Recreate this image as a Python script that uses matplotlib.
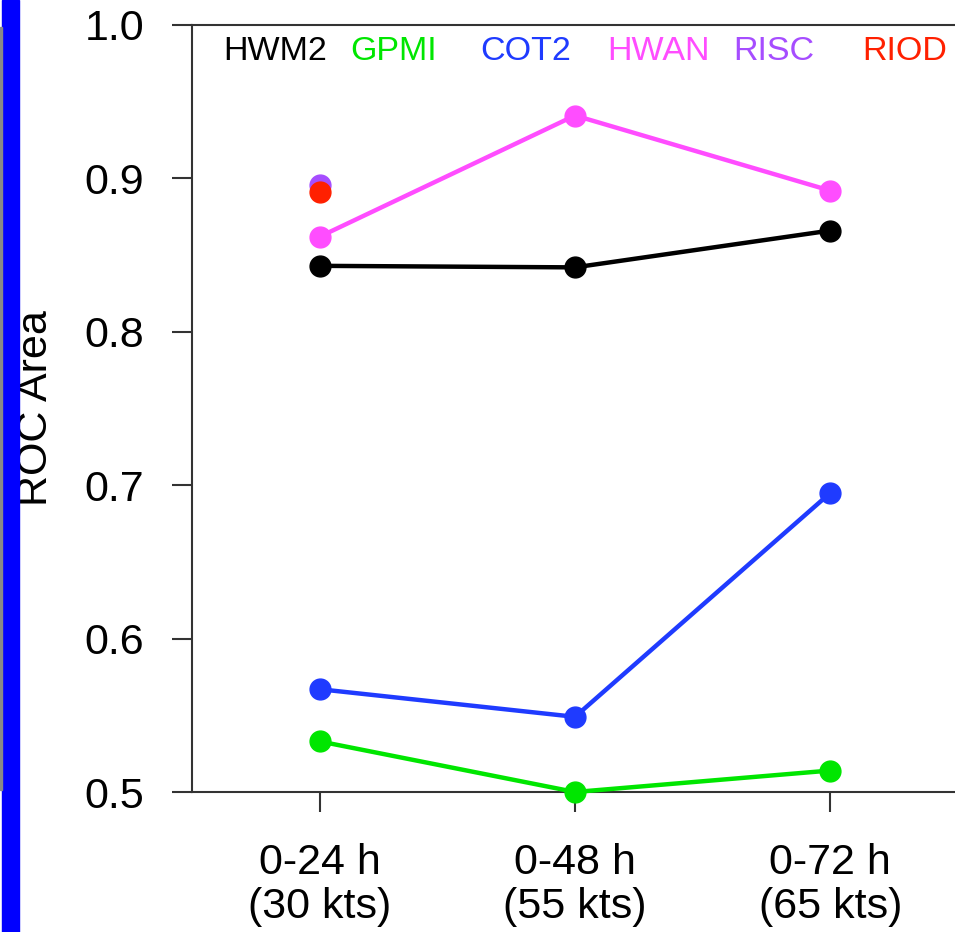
import matplotlib
matplotlib.use("Agg")
from matplotlib import pyplot as plt
from matplotlib.patches import Rectangle

# categories and series values
periods = ["0-24 h\n(30 kts)", "0-48 h\n(55 kts)", "0-72 h\n(65 kts)"]
hwm2 = [0.843, 0.842, 0.866]
gpmi = [0.533, 0.500, 0.514]
cot2 = [0.567, 0.549, 0.695]
hwan = [0.862, 0.941, 0.892]
risc = [0.896]
riod = [0.891]

names = ["HWM2", "GPMI", "COT2", "HWAN", "RISC", "RIOD"]
colors = ["black", "#00e600", "#1f3bff", "#ff4dff", "#a64dff", "#ff2000"]
label_x = [223, 350, 480, 607, 733, 862]  # legend text left edges in pixels

plt.rcParams["font.family"] = ["Liberation Sans", "DejaVu Sans"]

fig = plt.figure(figsize=(9.55, 9.32), dpi=100)
ax = fig.add_axes([192 / 955, 1 - 792 / 932, (958 - 192) / 955, (792 - 25) / 932])

x = [1, 2, 3]
series = [hwm2, gpmi, cot2, hwan]
for vals, c in zip(series, colors[:4]):
    ax.plot(x[:len(vals)], vals, color=c, lw=3.2, marker="o", ms=15, clip_on=False, zorder=3)
ax.plot(x[:1], risc, color=colors[4], marker="o", ms=15, ls="none", zorder=3)
ax.plot(x[:1], riod, color=colors[5], marker="o", ms=15, ls="none", zorder=4)

ax.set_xlim(0.5, 3.5)
ax.set_ylim(0.5, 1.0)
ax.set_xticks(x)
ax.set_xticklabels(periods, linespacing=1.15)
ax.set_yticks([0.5, 0.6, 0.7, 0.8, 0.9, 1.0])
ax.set_yticklabels(["0.5", "0.6", "0.7", "0.8", "0.9", "1.0"])
ax.tick_params(axis="both", direction="out", length=14.4, width=1.5, labelsize=31, color="#333333")
ax.tick_params(axis="y", pad=20)
ax.tick_params(axis="x", pad=22)
ax.spines["right"].set_visible(False)
for s in ["left", "top", "bottom"]:
    ax.spines[s].set_linewidth(1.5)
    ax.spines[s].set_color("#333333")
ax.set_ylabel("ROC Area", fontsize=31)
ax.yaxis.set_label_coords(-0.178, 0.5)

for name, c, px in zip(names, colors, label_x):
    fig.text(px / 955, 1 - 52 / 932, name, color=c, fontsize=24.5, ha="left", va="center")

# blue strip on the left edge
fig.patches.append(Rectangle((2 / 955, 0), 17 / 955, 1, transform=fig.transFigure,
                             color="#0000ff", zorder=5))
fig.patches.append(Rectangle((0, 1 - 790 / 932), 1.5 / 955, (790 - 27) / 932,
                             transform=fig.transFigure, color="#888888", zorder=5))

fig.savefig("out.png", dpi=100)
